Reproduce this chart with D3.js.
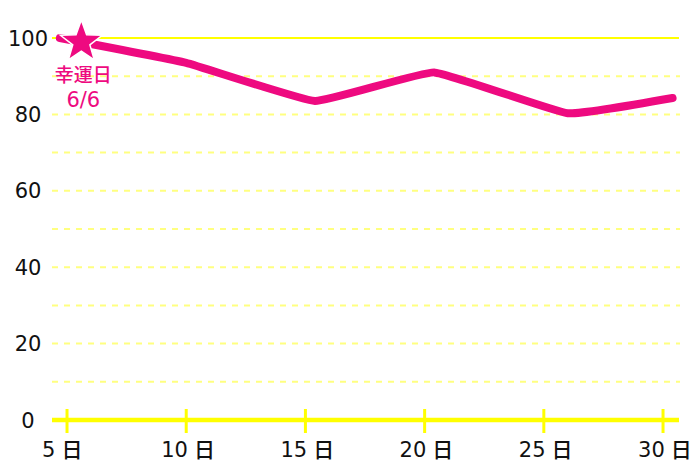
<!DOCTYPE html>
<html>
<head>
<meta charset="utf-8">
<script src="https://cdn.jsdelivr.net/npm/d3@7"></script>
<style>
  body { margin: 0; background: #fff; }
  svg text { font-family: "DejaVu Sans", "Noto Sans CJK JP", sans-serif; }
</style>
</head>
<body>
<svg id="chart" width="700" height="467"></svg>
<script>
// data
var days = [4.7, 10, 15.4, 20.4, 26, 30.4];
var values = [100, 93.5, 83.5, 91, 80.3, 84.3];
var xTicks = [5, 10, 15, 20, 25, 30];
var yTicks = [0, 20, 40, 60, 80, 100];
var gridValues = [10, 20, 30, 40, 50, 60, 70, 80, 90];
var luckyDay = [5.6, 99.2];
var luckyLabel = ["幸運日", "6/6"];

var pink = "#ee0a80", yellow = "#ffff00", paleYellow = "#ffff80";
var plotLeft = 52, plotRight = 679, plotTop = 38, plotBottom = 420;

var svg = d3.select("#chart");

var x = d3.scaleLinear().domain([4.37, 30.67]).range([plotLeft, plotRight]);
var y = d3.scaleLinear().domain([0, 100]).range([plotBottom, plotTop]);

// dashed grid
svg.append("g").selectAll("line")
	.data(gridValues)
	.enter()
	.append("line")
	.attr("x1", plotLeft)
	.attr("x2", plotRight + 1)
	.attr("y1", function(d){ return y(d); })
	.attr("y2", function(d){ return y(d); })
	.style("stroke", paleYellow)
	.style("stroke-width", "2px")
	.attr("stroke-dasharray", "6, 6");

// solid line at 100
svg.append("line")
	.attr("x1", plotLeft)
	.attr("x2", plotRight)
	.attr("y1", y(100))
	.attr("y2", y(100))
	.style("stroke", yellow)
	.style("stroke-width", "2px");

// x axis
var xAxis = svg.append("g").attr("transform", "translate(0," + y(0) + ")");
xAxis.append("line")
	.attr("x1", plotLeft)
	.attr("x2", plotRight)
	.style("stroke", yellow)
	.style("stroke-width", "4.5px");
xAxis.selectAll("line.tick")
	.data(xTicks)
	.enter()
	.append("line")
	.attr("class", "tick")
	.attr("x1", function(d){ return x(d); })
	.attr("x2", function(d){ return x(d); })
	.attr("y1", -11)
	.attr("y2", 13)
	.style("stroke", yellow)
	.style("stroke-width", "3px");
var xLabels = xAxis.selectAll("text")
	.data(xTicks)
	.enter()
	.append("text")
	.attr("x", function(d){ return x(d) - 25; })
	.attr("y", 37)
	.attr("text-anchor", "start")
	.style("font-size", "21px")
	.style("font-weight", "500")
	.style("fill", "#111");
xLabels.append("tspan").text(function(d){ return d; });
xLabels.append("tspan").attr("dx", 6).text("日");

// y labels
svg.append("g").selectAll("text")
	.data(yTicks)
	.enter()
	.append("text")
	.attr("x", 28)
	.attr("y", function(d){ return y(d); })
	.attr("dy", "0.36em")
	.attr("text-anchor", "middle")
	.style("font-size", "21px")
	.style("font-weight", "500")
	.style("fill", "#111")
	.text(function(d){ return d; });

// the series
var line = d3.line()
	.x(function(d){ return x(d[0]); })
	.y(function(d){ return y(d[1]); })
	.curve(d3.curveCardinal.tension(0.7));

svg.append("path")
	.datum(d3.zip(days, values))
	.attr("d", line)
	.style("fill", "none")
	.style("stroke", pink)
	.style("stroke-width", "8px")
	.style("stroke-linecap", "round")
	.style("stroke-linejoin", "round");

// lucky day star
var starPoints = [];
for (var i = 0; i < 10; i++) {
	var r = i % 2 == 0 ? 22 : 9;
	var a = -Math.PI / 2 + i * Math.PI / 5;
	starPoints.push([r * Math.cos(a), r * Math.sin(a)]);
}
var sx = x(luckyDay[0]), sy = y(luckyDay[1]) + 1;
svg.append("polygon")
	.attr("points", starPoints.map(function(p){ return p.join(","); }).join(" "))
	.attr("transform", "translate(" + sx + "," + sy + ")")
	.style("fill", pink)
	.style("stroke", "#fff")
	.style("stroke-width", "1.5px");

svg.append("text")
	.attr("x", sx + 2)
	.attr("y", 82)
	.attr("text-anchor", "middle")
	.style("font-family", "'Noto Sans CJK JP', sans-serif")
	.style("font-size", "19px")
	.style("font-weight", "500")
	.style("fill", pink)
	.text(luckyLabel[0]);
svg.append("text")
	.attr("x", sx + 2)
	.attr("y", 107)
	.attr("text-anchor", "middle")
	.style("font-size", "21px")
	.style("font-weight", "500")
	.style("fill", pink)
	.text(luckyLabel[1]);
</script>
</body>
</html>
